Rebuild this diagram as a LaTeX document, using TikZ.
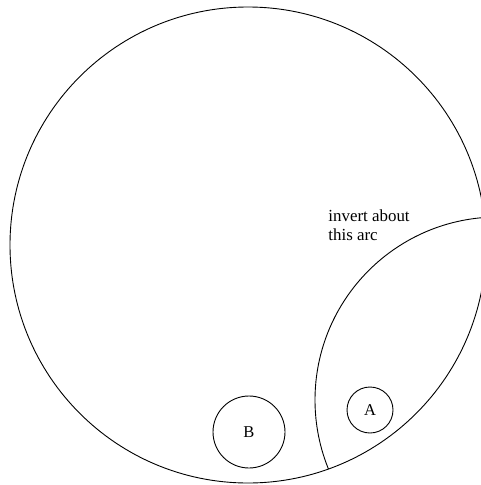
\documentclass[tikz,border=0pt]{standalone}
\usepackage{fontspec}
\setmainfont{Liberation Serif}
\begin{document}
\begin{tikzpicture}[x=1pt,y=-1pt,line width=0.9pt,
  ball/.style={draw,circle,inner sep=0pt,font=\fontsize{16.5}{18}\selectfont},
  lbl/.style={align=left,inner sep=0pt,anchor=base west,font=\fontsize{16.9}{18.7}\selectfont}]
\useasboundingbox (0,0) rectangle (481,485);
\clip (0,0) rectangle (481,485);
\coordinate (O) at (248,245);
\coordinate (P) at (498,400);
\draw (O) circle (238pt);
\begin{scope}
  \clip (O) circle (238pt);
  \draw (P) circle (183pt);
\end{scope}
\node[ball,minimum size=46pt] (A) at (370,410) {A};
\node[ball,minimum size=72pt] (B) at (249,432) {B};
\node[lbl] (t) at (328,240.5) {invert about\\this arc};
\end{tikzpicture}
\end{document}
